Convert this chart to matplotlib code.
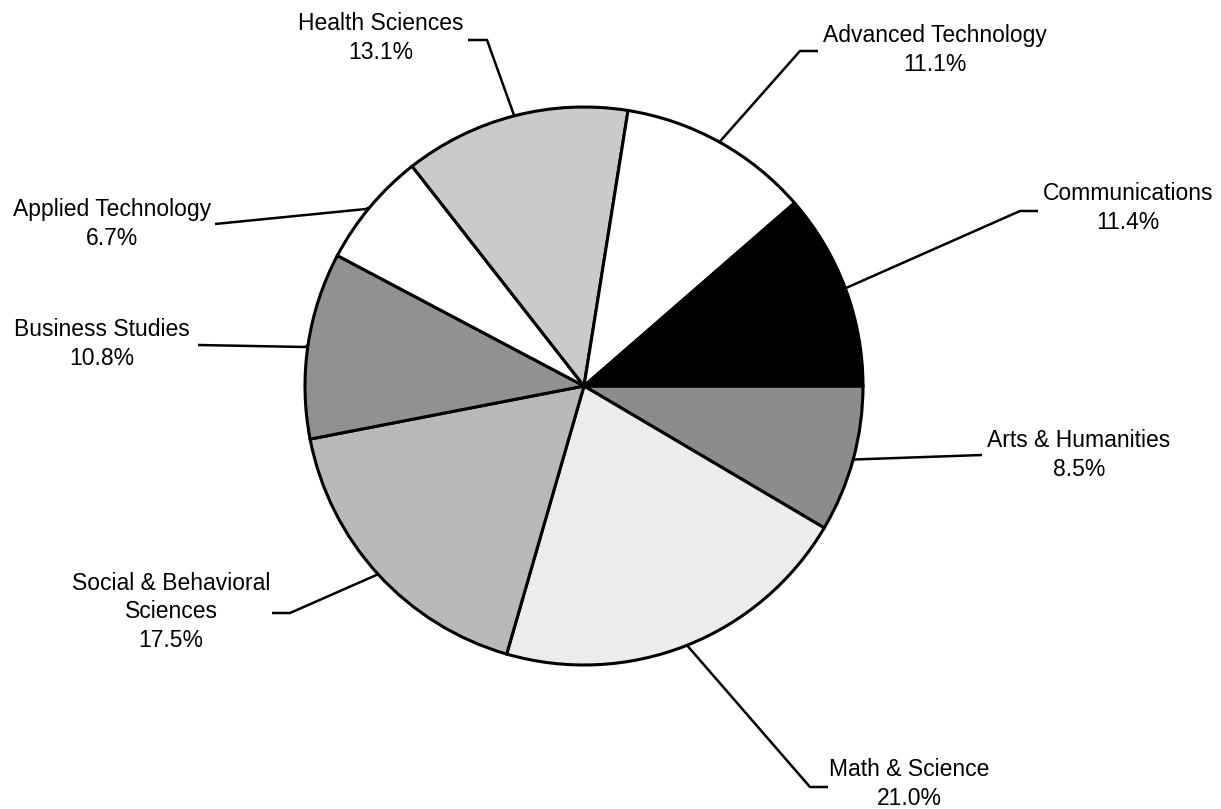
import numpy as np
import matplotlib
matplotlib.use("Agg")
import matplotlib.pyplot as plt

categories = ["Arts & Humanities", "Math & Science", "Social & Behavioral\nSciences",
              "Business Studies", "Applied Technology", "Health Sciences",
              "Advanced Technology", "Communications"]
percents = [8.5, 21.0, 17.5, 10.8, 6.7, 13.1, 11.1, 11.4]
colors = ["#8c8c8c", "#ececec", "#b9b9b9", "#919191", "#ffffff", "#cacaca", "#ffffff", "#000000"]

W, H = 1221, 809
fig = plt.figure(figsize=(W / 100, H / 100), dpi=100)
ax = fig.add_axes([0, 0, 1, 1])

cx, cy, r = 584, H - 386, 279
wedges, _ = ax.pie(percents, colors=colors, startangle=0, counterclock=False,
                   center=(cx, cy), radius=r, frame=True,
                   wedgeprops=dict(edgecolor="black", linewidth=2.2))
ax.set_xlim(0, W)
ax.set_ylim(0, H)
ax.set_aspect("equal")
ax.axis("off")

# label layout: (elbow x, elbow y, end x, end y, text x, text y) in pixel coords (y down)
layout = [
    (982, 455, 982, 455, 1079, 455),
    (810, 787, 828, 787, 909, 784),
    (290, 613, 272, 613, 171, 612),
    (305, 347, 198, 345, 102, 344),
    (366, 209, 215, 224, 112, 224),
    (487, 40, 468, 40, 381, 38),
    (800, 51, 818, 51, 935, 50),
    (1020, 211, 1038, 211, 1128, 208),
]

font = dict(family="Liberation Sans", fontsize=16.5, color="black")
for w, cat, p, lay in zip(wedges, categories, percents, layout):
    ex, ey, tx, ty, lx, ly = lay
    mid = np.deg2rad((w.theta1 + w.theta2) / 2)
    px, py = cx + r * np.cos(mid), cy + r * np.sin(mid)
    ax.plot([px, ex, tx], [py, H - ey, H - ty], color="black", lw=1.8,
            solid_capstyle="butt", zorder=0)
    ax.text(lx, H - ly, f"{cat}\n{p:.1f}%", ha="center", va="center",
            linespacing=1.32, **font)

fig.savefig("out.png", dpi=100, facecolor="white")
